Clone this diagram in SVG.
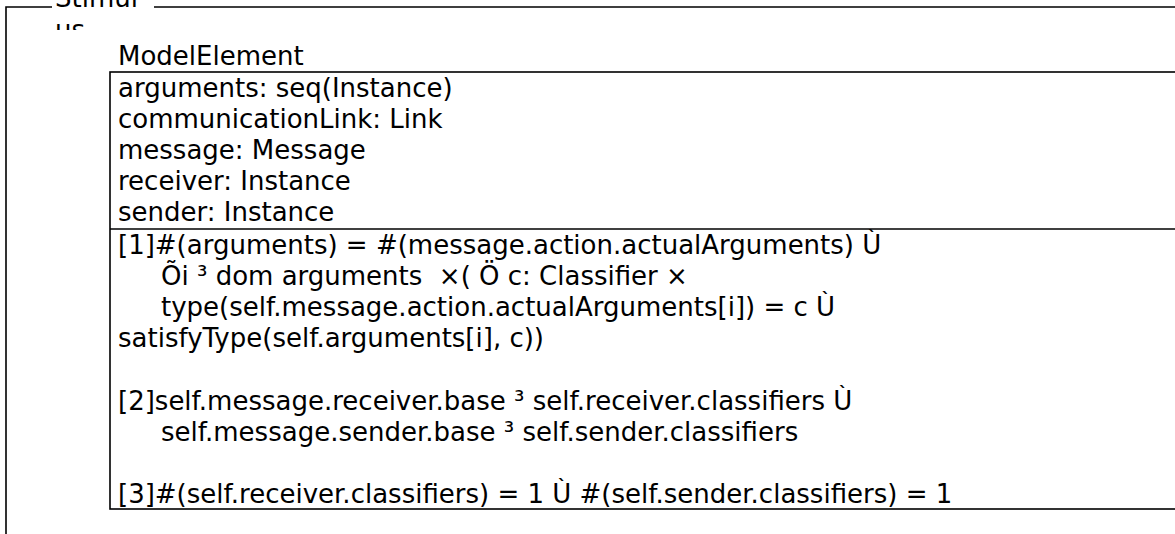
<svg xmlns="http://www.w3.org/2000/svg" width="1175" height="534" viewBox="0 0 1175 534">
  <defs>
    <style>
      .t { font-family: "DejaVu Sans", "Noto Sans", sans-serif; font-size: 26px; fill: #000; white-space: pre; }
      .ln { fill: none; stroke: #000; stroke-width: 1.6; }
    </style>
    <clipPath id="lblclip">
      <rect x="40" y="-40" width="120" height="70"/>
    </clipPath>
  </defs>
  <rect x="0" y="0" width="1175" height="534" fill="#fff"/>

  <g id="stimulus-frame">
    <path class="ln" d="M52,7 H6 V540 M154,7 H1190"/>
    <g clip-path="url(#lblclip)">
      <text class="t" x="55" y="7">Stimul</text>
      <text class="t" x="55" y="39">us</text>
    </g>
  </g>

  <g id="model-element-class">
    <text class="t" x="118" y="65">ModelElement</text>
    <rect class="ln" x="110" y="72" width="1090" height="437"/>
    <line class="ln" x1="110" y1="229" x2="1200" y2="229"/>
    <g id="attributes">
      <text class="t" x="118" y="96.5">arguments: seq(Instance)</text>
      <text class="t" x="118" y="127.7">communicationLink: Link</text>
      <text class="t" x="118" y="158.9">message: Message</text>
      <text class="t" x="118" y="190.1">receiver: Instance</text>
      <text class="t" x="118" y="221.3">sender: Instance</text>
    </g>
    <g id="constraints">
      <text class="t" x="118" y="253.6">[1]#(arguments) = #(message.action.actualArguments) Ù</text>
      <text class="t" x="161" y="284.8">Õi ³ dom arguments  ×( Ö c: Classifier ×</text>
      <text class="t" x="161" y="316">type(self.message.action.actualArguments[i]) = c Ù</text>
      <text class="t" x="118" y="347.2">satisfyType(self.arguments[i], c))</text>
      <text class="t" x="118" y="409.6">[2]self.message.receiver.base ³ self.receiver.classifiers Ù</text>
      <text class="t" x="161" y="440.8">self.message.sender.base ³ self.sender.classifiers</text>
      <text class="t" x="118" y="503.2">[3]#(self.receiver.classifiers) = 1 Ù #(self.sender.classifiers) = 1</text>
    </g>
  </g>
</svg>
